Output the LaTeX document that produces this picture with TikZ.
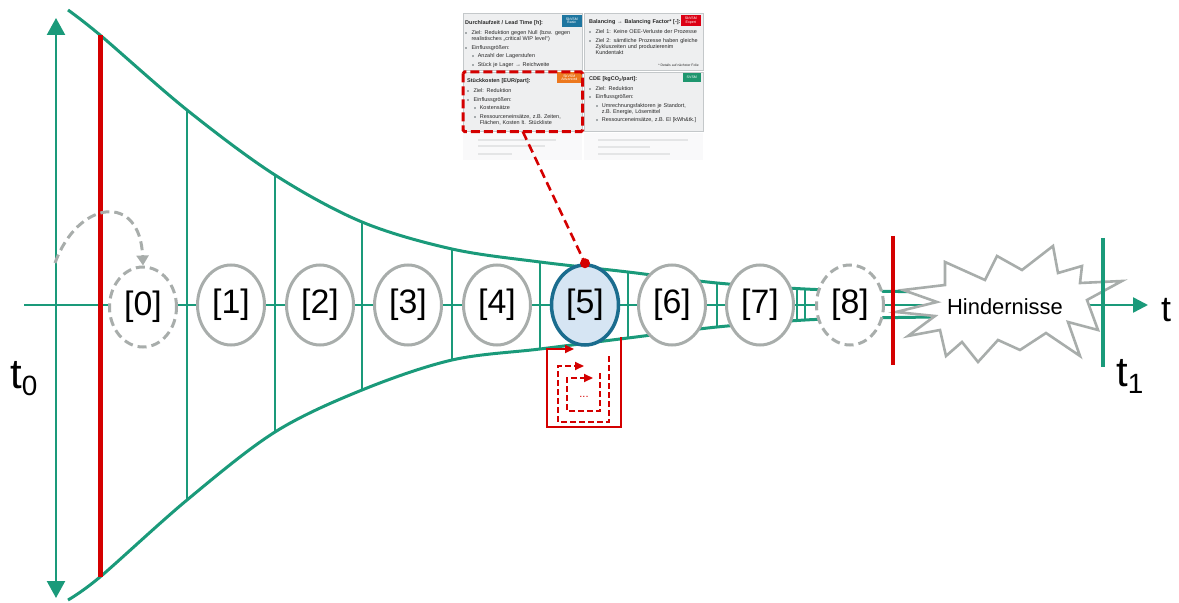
\documentclass[tikz,border=0pt]{standalone}
\usepackage{fontspec}
\setmainfont{Liberation Sans}
\usetikzlibrary{arrows.meta,shapes.geometric}

\definecolor{fgreen}{RGB}{26,154,122}
\definecolor{fred}{RGB}{212,0,0}
\definecolor{egray}{RGB}{168,173,171}
\definecolor{sblue}{RGB}{26,108,142}
\definecolor{sfill}{RGB}{214,229,243}
\definecolor{cellbg}{RGB}{238,239,240}
\definecolor{cellline}{RGB}{196,200,202}
\definecolor{bulgray}{RGB}{165,170,172}
\definecolor{ctext}{RGB}{40,40,40}
\definecolor{bbasic}{RGB}{30,118,160}
\definecolor{bexpert}{RGB}{220,0,20}
\definecolor{badv}{RGB}{236,120,30}
\definecolor{bsvsm}{RGB}{30,150,110}

% bullet items of the KPI cards
\newcommand{\cbul}[1]{\par\hangindent=6.4bp\hangafter=1\noindent
  \makebox[6.4bp][l]{\raisebox{0.5bp}{\textcolor{bulgray}{\rule{2.1bp}{2.1bp}}}}#1}
\newcommand{\csub}[1]{\par\hangindent=12.6bp\hangafter=1\noindent\hspace*{6.4bp}%
  \makebox[6.2bp][l]{\raisebox{0.5bp}{\textcolor{bulgray}{\rule{1.9bp}{1.9bp}}}}#1}

\tikzset{
  gline/.style={draw=fgreen, line width=2.4bp},
  funnel/.style={draw=fgreen, line width=3bp},
  rung/.style={draw=fgreen, line width=2bp},
  redbar/.style={draw=fred, line width=5bp},
  proc/.style={ellipse, draw=egray, line width=3bp, fill=white,
    minimum width=67bp, minimum height=80bp, inner sep=0pt,
    font=\fontsize{34}{34}\selectfont},
  procdash/.style={proc, dash pattern=on 9bp off 5bp},
  procact/.style={proc, draw=sblue, fill=sfill, line width=3.5bp},
  kcell/.style={rectangle, fill=cellbg, draw=cellline, line width=0.6bp,
    minimum width=119bp, minimum height=57bp, inner sep=0pt, anchor=north west},
  ktext/.style={anchor=north west, inner sep=0pt, text width=116bp, align=left,
    text=ctext, font=\fontsize{5.5}{6.0}\selectfont},
  badge/.style={rectangle, inner sep=0.4bp, text=white, align=center,
    font=\fontsize{3.6}{3.9}\selectfont, anchor=north east},
  loopline/.style={draw=fred, line width=1.8bp},
  loopdash/.style={loopline, dash pattern=on 6bp off 3bp},
  lbl/.style={inner sep=0pt, anchor=base west, text=black},
}

\begin{document}
\begin{tikzpicture}[x=1bp, y=-1bp]
\useasboundingbox (0,0) rectangle (1179,603);

% ---------- funnel ----------
\draw[funnel] plot[smooth, tension=0.55] coordinates {
  (68,10) (100,35) (187,110) (275,175) (362,222) (452,249) (540,262)
  (628,272) (717,283) (805,289) (870,291) (935,292)};
\draw[funnel] plot[smooth, tension=0.55] coordinates {
  (68,600) (100,577) (187,500) (275,432) (362,390) (452,360) (540,349)
  (628,338) (717,327) (805,320) (870,318) (935,317)};
\draw[rung] (187,110) -- (187,500);
\draw[rung] (275,175) -- (275,432);
\draw[rung] (362,222) -- (362,390);
\draw[rung] (452,249) -- (452,360);
\draw[rung] (540,262) -- (540,349);
\draw[rung] (628,272) -- (628,338);
\draw[rung] (717,283) -- (717,327);
\draw[rung] (797,288) -- (797,321);
\draw[rung] (805,289) -- (805,320);

% ---------- time axis and spread arrow ----------
\coordinate (axs) at (24,305);
\coordinate (axe) at (1148,305);
\draw[gline, -{Triangle[length=15bp,width=15bp]}] (axs) -- (axe);
\coordinate (vt) at (56,18);
\coordinate (vb) at (56,598);
\draw[gline, {Triangle[length=17bp,width=18bp]}-{Triangle[length=17bp,width=18bp]}] (vt) -- (vb);

% start line
\draw[redbar] (100,35) -- (100,577);

% ---------- process steps ----------
\node[procdash] (n0) at (143,307) {[0]};
\node[proc] (n1) at (231,305) {[1]};
\node[proc] (n2) at (320,305) {[2]};
\node[proc] (n3) at (408,305) {[3]};
\node[proc] (n4) at (497,305) {[4]};
\node[procact] (n5) at (585,305) {[5]};
\node[proc] (n6) at (672,305) {[6]};
\node[proc] (n7) at (760,305) {[7]};
\node[procdash] (n8) at (850,305) {[8]};

% re-entry loop into step 0
\coordinate (loopstart) at (55,263);
\draw[draw=egray, line width=3bp, dash pattern=on 9bp off 5bp,
  -{Triangle[length=10bp,width=12bp]}]
  (loopstart) .. controls (78,200) and (140,192) .. (n0.north);

% improvement loops under step 5
\draw[loopline, -{Triangle[length=9bp,width=8bp]}]
  (621,337) -- (621,427) -- (547,427) -- (547,349) -- (574,349);
\draw[loopdash, -{Triangle[length=9bp,width=8bp]}]
  (609,356) -- (609,422) -- (558,422) -- (558,366) -- (584,366);
\draw[loopdash, -{Triangle[length=9bp,width=8bp]}]
  (600,373) -- (600,411) -- (567,411) -- (567,378) -- (593,378);
\node[inner sep=0pt, text=fred, font=\fontsize{11}{11}\selectfont] (dots) at (584,397) {...};

% ---------- obstacles ----------
\draw[draw=egray, fill=white, line width=2.6bp, line join=miter]
  (903,290) -- (945,285) -- (945,262) -- (985,280) -- (997,256) -- (1022,270)
  -- (1053,246) -- (1058,273) -- (1082,266) -- (1080,283) -- (1122,281)
  -- (1087,300) -- (1098,330) -- (1068,322) -- (1080,356) -- (1046,333)
  -- (1020,350) -- (998,340) -- (978,362) -- (962,342) -- (946,356)
  -- (940,330) -- (908,336) -- (935,316) -- (896,312) -- (937,302) -- cycle;
\node[inner sep=0pt, font=\fontsize{22}{22}\selectfont] (hind) at (1005,307) {Hindernisse};

\draw[draw=fred, line width=4bp] (893,236) -- (893,365);
\draw[draw=fgreen, line width=4bp] (1103,238) -- (1103,367);

% ---------- labels ----------
\node[lbl, font=\fontsize{36}{36}\selectfont] (tlab) at (1161,322) {t};
\node[lbl, font=\fontsize{42}{42}\selectfont] (t0) at (10,388)
  {t\raisebox{-7bp}{\fontsize{28}{28}\selectfont 0}};
\node[lbl, font=\fontsize{42}{42}\selectfont] (t1) at (1116,386)
  {t\raisebox{-7bp}{\fontsize{28}{28}\selectfont 1}};

% ---------- KPI cards ----------
% faint reflection below the cards
\fill[cellbg, opacity=0.35] (463,133) rectangle (582,160);
\fill[cellbg, opacity=0.35] (584,133) rectangle (703,160);
\foreach \ya/\xa/\xb in {140/478/556, 146/478/545, 154/478/512} {
  \draw[bulgray, line width=1.3bp, opacity=0.25] (\xa,\ya) -- (\xb,\ya);
}
\foreach \ya/\xa/\xb in {140/598/688, 147/598/650, 154/598/670} {
  \draw[bulgray, line width=1.3bp, opacity=0.25] (\xa,\ya) -- (\xb,\ya);
}

\node[kcell] (ctl) at (463,13) {};
\node[kcell] (ctr) at (584,13) {};
\node[kcell, minimum height=59bp] (cbl) at (463,72) {};
\node[kcell, minimum height=59bp] (cbr) at (584,72) {};

\node[ktext] (ttl) at (465,20.5) {\setlength{\parskip}{2.6bp}%
  \textbf{Durchlaufzeit / Lead Time [h]:}\par\vspace{1.4bp}
  \cbul{Ziel: Reduktion gegen Null (bzw. gegen\newline realistisches „critical WIP level“)}
  \cbul{Einflussgrößen:}
  \csub{Anzahl der Lagerstufen}
  \csub{Stück je Lager \textbf{→} Reichweite}\par};

\node[ktext] (ttr) at (589,19.5) {\setlength{\parskip}{2.6bp}%
  \textbf{Balancing → Balancing Factor* [-]:}\par\vspace{1.4bp}
  \cbul{Ziel 1: Keine OEE-Verluste der Prozesse}
  \cbul{Ziel 2: sämtliche Prozesse haben gleiche\newline Zykluszeiten und produzierenim\newline Kundentakt}\par};
\node[anchor=base east, inner sep=0pt, text=ctext, font=\fontsize{3.4}{3.8}\selectfont]
  (ttrnote) at (699,67) {* Details auf nächster Folie};

\node[ktext] (tbl) at (467,78.5) {\setlength{\parskip}{2.6bp}%
  \textbf{Stückkosten [EUR/part]:}\par\vspace{1.4bp}
  \cbul{Ziel: Reduktion}
  \cbul{Einflussgrößen:}
  \csub{Kostensätze}
  \csub{Ressourceneinsätze, z.B. Zeiten,\newline Flächen, Kosten lt. Stückliste}\par};

\node[ktext] (tbr) at (589,76) {\setlength{\parskip}{2.6bp}%
  \textbf{CDE [kgCO\textsubscript{2}/part]:}\par\vspace{1.4bp}
  \cbul{Ziel: Reduktion}
  \cbul{Einflussgrößen:}
  \csub{Umrechnungsfaktoren je Standort,\newline z.B. Energie, Lösemittel}
  \csub{Ressourceneinsätze, z.B. El [kWh\&tk.]}\par};

\node[badge, fill=bbasic, minimum width=20bp, minimum height=12bp] (bdg1) at (582,14.5) {SkVSM\\Basic};
\node[badge, fill=bexpert, minimum width=20bp, minimum height=11bp] (bdg2) at (701,14.5) {SkVSM\\Expert};
\node[badge, fill=badv, minimum width=25bp, minimum height=11bp] (bdg3) at (582,72) {SkVSM\\Advanced};
\node[badge, fill=bsvsm, minimum width=18bp, minimum height=9bp] (bdg4) at (701,73) {SVSM};

% highlighted cost card
\draw[draw=fred, line width=3bp, dash pattern=on 9bp off 4bp, rounded corners=1.5bp]
  (cbl.north west) rectangle (cbl.south east);

% link from the cost card to step 5
\draw[draw=fred, line width=2.6bp, dash pattern=on 9bp off 5bp] (cbl.south) -- (n5.north);
\fill[fred] (n5.north) circle (5bp);

\end{tikzpicture}
\end{document}
